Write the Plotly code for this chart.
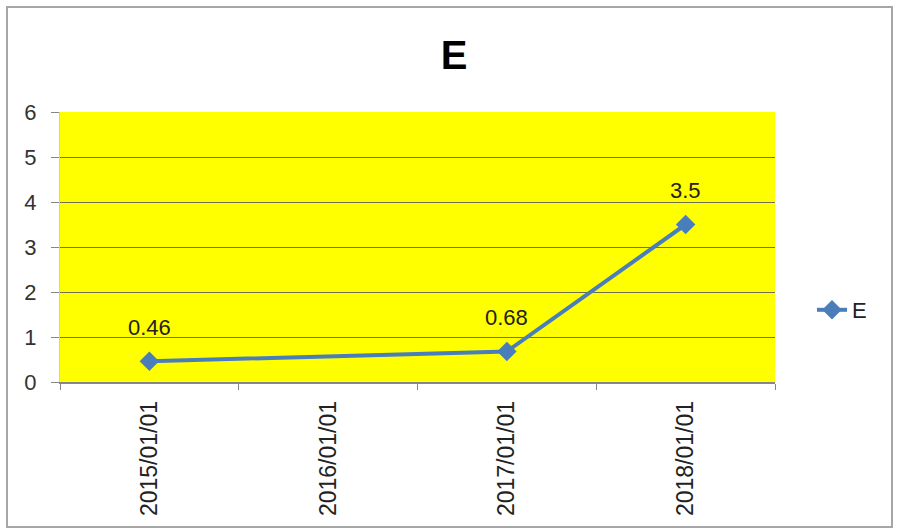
import plotly.graph_objects as go

categories = ["2015/01/01", "2016/01/01", "2017/01/01", "2018/01/01"]
values = [0.46, None, 0.68, 3.5]
labels = ["0.46", "", "0.68", "3.5"]
series_name = "E"
title = "E"
y_ticks = [0, 1, 2, 3, 4, 5, 6]

W, H = 897, 532
L, R, T, B = 60, 775, 112, 382
pw, ph = R - L, B - T

font = "Liberation Sans"
blue = "#4A7EBB"

fig = go.Figure()
fig.add_trace(go.Scatter(
    x=categories, y=values, name=series_name, mode="lines+markers",
    connectgaps=True,
    line=dict(color=blue, width=4),
    marker=dict(symbol="diamond", size=15, color=blue),
))

for c, v, t in zip(categories, values, labels):
    if v is None:
        continue
    fig.add_annotation(x=c, y=v, text=t, showarrow=False, yshift=34,
                       font=dict(family=font, size=22, color="#222"))

fig.add_shape(type="rect", xref="paper", yref="paper",
              x0=(7 - L) / pw, x1=(892 - L) / pw,
              y0=(B - 527) / ph, y1=(B - 7) / ph,
              line=dict(color="#A6A6A6", width=2), layer="below")

fig.update_layout(
    width=W, height=H,
    margin=dict(l=L, r=W - R, t=T, b=H - B, autoexpand=False),
    paper_bgcolor="white", plot_bgcolor="#FFFF00",
    title=dict(text="<b>%s</b>" % title, x=(454) / W, xanchor="center",
               y=1 - 55 / H, yanchor="middle",
               font=dict(family=font, size=40, color="#000")),
    showlegend=True,
    legend=dict(x=(812 - L) / pw, y=(B - 310) / ph, xanchor="left", yanchor="middle",
                font=dict(family=font, size=22, color="#222"),
                bgcolor="rgba(0,0,0,0)", itemwidth=30),
    xaxis=dict(type="category", categoryorder="array", categoryarray=categories,
               range=[-0.5, 3.5], tickson="boundaries", ticks="outside", ticklen=6,
               tickcolor="#868686", tickangle=-90, showgrid=False,
               showline=True, linecolor="#868686", linewidth=1.5,
               tickfont=dict(family=font, size=23, color="#222"),
               ticklabelstandoff=8),
    yaxis=dict(range=[0, 6], tickvals=y_ticks, ticks="outside", ticklen=8,
               tickcolor="#868686", showgrid=True, gridcolor="#707050", gridwidth=1,
               showline=True, linecolor="#D8D870", linewidth=1, zeroline=False,
               tickfont=dict(family=font, size=22, color="#333"),
               ticklabelstandoff=10),
)

fig.write_html("out.html", config={"displayModeBar": False},
               post_script="document.body.style.margin='0';document.body.style.padding='0';")
